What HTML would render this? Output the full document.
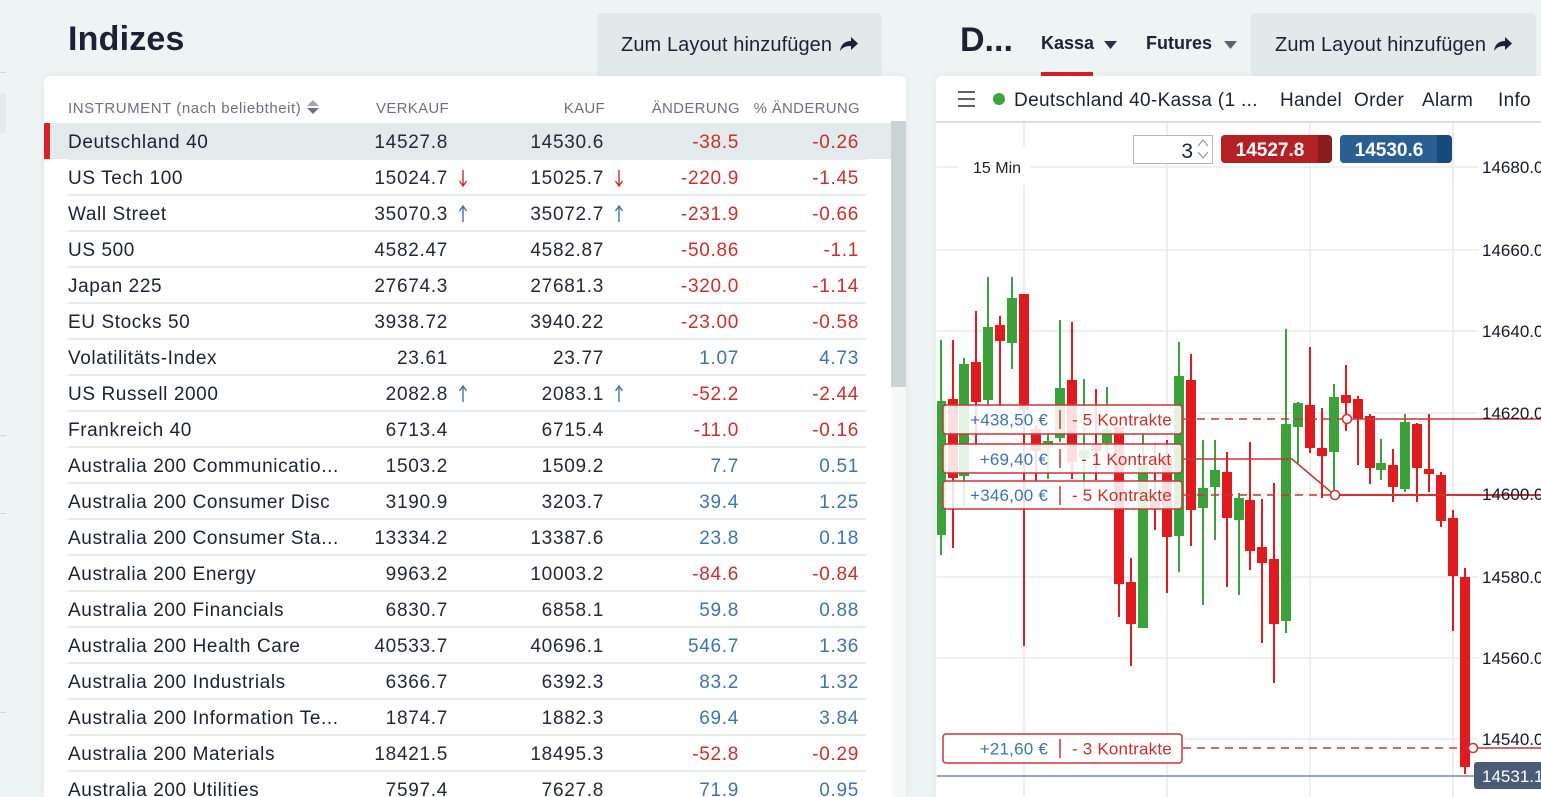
<!DOCTYPE html>
<html><head><meta charset="utf-8"><style>
*{margin:0;padding:0;box-sizing:border-box}
html{width:1541px;height:797px;overflow:hidden}
body{width:1541px;height:797px;overflow:hidden;background:#eef3f3;font-family:"Liberation Sans",sans-serif;position:relative;color:#1b2235}
.a{position:absolute;white-space:nowrap}
.btn{position:absolute;background:#e1e9ea;border-radius:5px 5px 0 0}
.btxt{position:absolute;font-size:20px;line-height:24px;color:#1b2235;letter-spacing:0.1px}
.panel{position:absolute;background:#fff;border-radius:6px 6px 0 0;box-shadow:0 0 10px rgba(0,0,0,0.05);overflow:hidden}
.hd{position:absolute;top:100px;font-size:15px;line-height:18px;color:#6d7081;letter-spacing:0.3px;white-space:nowrap}
.r{position:absolute;left:44px;width:847px;height:36px}
.r span{position:absolute;top:2px;line-height:36px;font-size:19px;white-space:nowrap}
.nm{left:24px;letter-spacing:0.6px;color:#1b2235}
.v{left:294px;width:110px;text-align:right;letter-spacing:0.7px;color:#23283a}
.k{left:450px;width:110px;text-align:right;letter-spacing:0.7px;color:#23283a}
.c{left:585px;width:110px;text-align:right;letter-spacing:0.7px}
.p{left:705px;width:110px;text-align:right;letter-spacing:0.7px}
.red{color:#c9302c!important}
.blu{color:#3d74b0!important}
.sep{position:absolute;left:24px;width:798px;height:2px;background:#e6ecec;top:35px}
.ar{position:absolute;top:10px}
</style></head><body>

<!-- left edge strip -->
<div class="a" style="left:0;top:72px;width:6px;height:1px;background:#d0d7d8"></div>
<div class="a" style="left:0;top:93px;width:6px;height:40px;background:#e3eaeb"></div>
<div class="a" style="left:0;top:435px;width:6px;height:1px;background:#d0d7d8"></div>
<div class="a" style="left:0;top:513px;width:6px;height:1px;background:#d0d7d8"></div>
<div class="a" style="left:0;top:712px;width:6px;height:1px;background:#d0d7d8"></div>

<!-- Title -->
<div class="a" style="left:68px;top:19px;font-size:34px;line-height:40px;font-weight:bold;color:#1b2235;letter-spacing:0.2px">Indizes</div>

<!-- left button -->
<div class="btn" style="left:597px;top:13px;width:285px;height:63px"></div>
<div class="btxt a" style="left:621px;top:33px">Zum Layout hinzufügen</div>
<svg class="a" style="left:840px;top:36px" width="19" height="16" viewBox="0 0 19 16"><path d="M0,15 C1,8 5,5 11,5 V1 L18,7.5 L11,14 V10 C6,10 3,11 0,15 Z" fill="#1b2235"/></svg>

<!-- right header -->
<div class="a" style="left:960px;top:20px;font-size:34px;line-height:40px;font-weight:bold;color:#1b2235">D...</div>
<div class="a" style="left:1041px;top:31px;font-size:18px;line-height:24px;font-weight:bold;color:#1b2235">Kassa</div>
<svg class="a" style="left:1104px;top:41px" width="13" height="9"><path d="M0,0 L13,0 L6.5,8 Z" fill="#2a2f45"/></svg>
<div class="a" style="left:1041px;top:72px;width:52px;height:4px;background:#d42027"></div>
<div class="a" style="left:1146px;top:31px;font-size:18px;line-height:24px;font-weight:bold;color:#1b2235">Futures</div>
<svg class="a" style="left:1224px;top:41px" width="13" height="9"><path d="M0,0 L13,0 L6.5,8 Z" fill="#5e6270"/></svg>
<div class="btn" style="left:1251px;top:13px;width:285px;height:63px"></div>
<div class="btxt a" style="left:1275px;top:33px">Zum Layout hinzufügen</div>
<svg class="a" style="left:1494px;top:36px" width="19" height="16" viewBox="0 0 19 16"><path d="M0,15 C1,8 5,5 11,5 V1 L18,7.5 L11,14 V10 C6,10 3,11 0,15 Z" fill="#1b2235"/></svg>

<!-- Left table panel -->
<div class="panel" style="left:44px;top:76px;width:862px;height:721px">
  <div style="position:absolute;left:847px;top:45px;width:15px;height:676px;background:#f6f8f8"></div>
  <div style="position:absolute;left:847px;top:45px;width:15px;height:266px;background:#c9d3d4"></div>
</div>
<div class="hd" style="left:68px;letter-spacing:0.55px">INSTRUMENT (nach beliebtheit)</div>
<svg class="a" style="left:307px;top:100px" width="12" height="14"><path d="M0,6 L6,0 L12,6 Z" fill="#a3a6b1"/><path d="M0,8 L12,8 L6,14 Z" fill="#6d7081"/></svg>
<div class="hd" style="left:339px;width:110px;text-align:right">VERKAUF</div>
<div class="hd" style="left:495px;width:110px;text-align:right">KAUF</div>
<div class="hd" style="left:620px;width:120px;text-align:right">ÄNDERUNG</div>
<div class="hd" style="left:740px;width:120px;text-align:right">% ÄNDERUNG</div>

<!-- rows -->
<div class="r" style="top:123px;background:#e2eaeb"><div style="position:absolute;left:0;top:0;width:6px;height:36px;background:#d42027"></div><span class="nm">Deutschland 40</span><span class="v">14527.8</span><span class="k">14530.6</span><span class="c red">-38.5</span><span class="p red">-0.26</span></div>
<div class="r" style="top:159px"><span class="nm">US Tech 100</span><span class="v">15024.7</span><svg class="ar" style="left:414px" width="10" height="18"><path d="M5,1 V16 M1.5,12 L5,17 L8.5,12" stroke="#c9302c" stroke-width="1.4" fill="none"/></svg><span class="k">15025.7</span><svg class="ar" style="left:570px" width="10" height="18"><path d="M5,1 V16 M1.5,12 L5,17 L8.5,12" stroke="#c9302c" stroke-width="1.4" fill="none"/></svg><span class="c red">-220.9</span><span class="p red">-1.45</span><div class="sep" style="top:-1px"></div><div class="sep"></div></div>
<div class="r" style="top:195px"><span class="nm">Wall Street</span><span class="v">35070.3</span><svg class="ar" style="left:414px" width="10" height="18"><path d="M5,17 V2 M1.5,6 L5,1 L8.5,6" stroke="#3d74b0" stroke-width="1.4" fill="none"/></svg><span class="k">35072.7</span><svg class="ar" style="left:570px" width="10" height="18"><path d="M5,17 V2 M1.5,6 L5,1 L8.5,6" stroke="#3d74b0" stroke-width="1.4" fill="none"/></svg><span class="c red">-231.9</span><span class="p red">-0.66</span><div class="sep"></div></div>
<div class="r" style="top:231px"><span class="nm">US 500</span><span class="v">4582.47</span><span class="k">4582.87</span><span class="c red">-50.86</span><span class="p red">-1.1</span><div class="sep"></div></div>
<div class="r" style="top:267px"><span class="nm">Japan 225</span><span class="v">27674.3</span><span class="k">27681.3</span><span class="c red">-320.0</span><span class="p red">-1.14</span><div class="sep"></div></div>
<div class="r" style="top:303px"><span class="nm">EU Stocks 50</span><span class="v">3938.72</span><span class="k">3940.22</span><span class="c red">-23.00</span><span class="p red">-0.58</span><div class="sep"></div></div>
<div class="r" style="top:339px"><span class="nm">Volatilitäts-Index</span><span class="v">23.61</span><span class="k">23.77</span><span class="c blu">1.07</span><span class="p blu">4.73</span><div class="sep"></div></div>
<div class="r" style="top:375px"><span class="nm">US Russell 2000</span><span class="v">2082.8</span><svg class="ar" style="left:414px" width="10" height="18"><path d="M5,17 V2 M1.5,6 L5,1 L8.5,6" stroke="#3d74b0" stroke-width="1.4" fill="none"/></svg><span class="k">2083.1</span><svg class="ar" style="left:570px" width="10" height="18"><path d="M5,17 V2 M1.5,6 L5,1 L8.5,6" stroke="#3d74b0" stroke-width="1.4" fill="none"/></svg><span class="c red">-52.2</span><span class="p red">-2.44</span><div class="sep"></div></div>
<div class="r" style="top:411px"><span class="nm">Frankreich 40</span><span class="v">6713.4</span><span class="k">6715.4</span><span class="c red">-11.0</span><span class="p red">-0.16</span><div class="sep"></div></div>
<div class="r" style="top:447px"><span class="nm">Australia 200 Communicatio...</span><span class="v">1503.2</span><span class="k">1509.2</span><span class="c blu">7.7</span><span class="p blu">0.51</span><div class="sep"></div></div>
<div class="r" style="top:483px"><span class="nm">Australia 200 Consumer Disc</span><span class="v">3190.9</span><span class="k">3203.7</span><span class="c blu">39.4</span><span class="p blu">1.25</span><div class="sep"></div></div>
<div class="r" style="top:519px"><span class="nm">Australia 200 Consumer Sta...</span><span class="v">13334.2</span><span class="k">13387.6</span><span class="c blu">23.8</span><span class="p blu">0.18</span><div class="sep"></div></div>
<div class="r" style="top:555px"><span class="nm">Australia 200 Energy</span><span class="v">9963.2</span><span class="k">10003.2</span><span class="c red">-84.6</span><span class="p red">-0.84</span><div class="sep"></div></div>
<div class="r" style="top:591px"><span class="nm">Australia 200 Financials</span><span class="v">6830.7</span><span class="k">6858.1</span><span class="c blu">59.8</span><span class="p blu">0.88</span><div class="sep"></div></div>
<div class="r" style="top:627px"><span class="nm">Australia 200 Health Care</span><span class="v">40533.7</span><span class="k">40696.1</span><span class="c blu">546.7</span><span class="p blu">1.36</span><div class="sep"></div></div>
<div class="r" style="top:663px"><span class="nm">Australia 200 Industrials</span><span class="v">6366.7</span><span class="k">6392.3</span><span class="c blu">83.2</span><span class="p blu">1.32</span><div class="sep"></div></div>
<div class="r" style="top:699px"><span class="nm">Australia 200 Information Te...</span><span class="v">1874.7</span><span class="k">1882.3</span><span class="c blu">69.4</span><span class="p blu">3.84</span><div class="sep"></div></div>
<div class="r" style="top:735px"><span class="nm">Australia 200 Materials</span><span class="v">18421.5</span><span class="k">18495.3</span><span class="c red">-52.8</span><span class="p red">-0.29</span><div class="sep"></div></div>
<div class="r" style="top:761px;height:36px;overflow:hidden"><span class="nm" style="top:12px">Australia 200 Utilities</span><span class="v" style="top:12px">7597.4</span><span class="k" style="top:12px">7627.8</span><span class="c blu" style="top:12px">71.9</span><span class="p blu" style="top:12px">0.95</span></div>

<!-- Chart panel -->
<div class="panel" style="left:936px;top:76px;width:605px;height:721px;border-radius:6px 0 0 0"></div>
<div class="a" style="left:936px;top:121px;width:605px;height:2px;background:#d8dfe0"></div>
<div class="a" style="left:958px;top:91px;width:17px;height:2px;background:#5c6073"></div>
<div class="a" style="left:958px;top:98px;width:17px;height:2px;background:#5c6073"></div>
<div class="a" style="left:958px;top:105px;width:17px;height:2px;background:#5c6073"></div>
<div class="a" style="left:993px;top:93px;width:12px;height:12px;border-radius:50%;background:#3da33d"></div>
<div class="a" style="left:1014px;top:89px;font-size:19px;line-height:24px;color:#1b2235;letter-spacing:0.35px">Deutschland 40-Kassa (1 ...</div>
<div class="a" style="left:1280px;top:89px;font-size:19px;line-height:24px;color:#1b2235;letter-spacing:0.3px">Handel</div>
<div class="a" style="left:1354px;top:89px;font-size:19px;line-height:24px;color:#1b2235;letter-spacing:0.3px">Order</div>
<div class="a" style="left:1422px;top:89px;font-size:19px;line-height:24px;color:#1b2235;letter-spacing:0.3px">Alarm</div>
<div class="a" style="left:1498px;top:89px;font-size:19px;line-height:24px;color:#1b2235;letter-spacing:0.3px">Info</div>

<svg class="a" style="left:0;top:0" width="1541" height="797" viewBox="0 0 1541 797">
<defs><clipPath id="cp"><rect x="937" y="123" width="604" height="674"/></clipPath></defs>
<g clip-path="url(#cp)">
<g stroke="#ececec" stroke-width="1.5">
<line x1="937" y1="167" x2="1478" y2="167"/><line x1="937" y1="250" x2="1478" y2="250"/><line x1="937" y1="331" x2="1478" y2="331"/><line x1="937" y1="413" x2="1478" y2="413"/><line x1="937" y1="494" x2="1478" y2="494"/><line x1="937" y1="577" x2="1478" y2="577"/><line x1="937" y1="658" x2="1478" y2="658"/><line x1="937" y1="739" x2="1478" y2="739"/>
</g>
<g stroke="#eeeeee" stroke-width="2">
<line x1="1024" y1="123" x2="1024" y2="797"/><line x1="1167" y1="123" x2="1167" y2="797"/><line x1="1310" y1="123" x2="1310" y2="797"/><line x1="1453" y1="123" x2="1453" y2="797"/>
</g>
<rect x="958" y="147" width="72" height="38" fill="#fff"/>
<text x="973" y="173" font-size="16" fill="#222" font-family="Liberation Sans, sans-serif">15 Min</text>

<g id="candles">
<g fill="#3ba23b"><rect x="940" y="340" width="2" height="215"/><rect x="936" y="401" width="10" height="134"/></g>
<g fill="#e01b1f"><rect x="952" y="340" width="2" height="208"/><rect x="948" y="399" width="10" height="79"/></g>
<g fill="#3ba23b"><rect x="963" y="358" width="2" height="149"/><rect x="959" y="364" width="10" height="112"/></g>
<g fill="#e01b1f"><rect x="975" y="311" width="2" height="134"/><rect x="971" y="362" width="10" height="40"/></g>
<g fill="#3ba23b"><rect x="987" y="277" width="2" height="129"/><rect x="983" y="327" width="10" height="73"/></g>
<g fill="#e01b1f"><rect x="999" y="316" width="2" height="90"/><rect x="995" y="325" width="10" height="16"/></g>
<g fill="#3ba23b"><rect x="1011" y="277" width="2" height="92"/><rect x="1007" y="298" width="10" height="45"/></g>
<g fill="#e01b1f"><rect x="1023" y="294" width="2" height="352"/><rect x="1019" y="294" width="10" height="116"/></g>
<g fill="#e01b1f"><rect x="1035" y="425" width="2" height="58"/><rect x="1031" y="429" width="10" height="22"/></g>
<g fill="#3ba23b"><rect x="1047" y="430" width="2" height="49"/><rect x="1043" y="441" width="10" height="7"/></g>
<g fill="#3ba23b"><rect x="1059" y="320" width="2" height="122"/><rect x="1055" y="388" width="10" height="50"/></g>
<g fill="#e01b1f"><rect x="1071" y="322" width="2" height="157"/><rect x="1067" y="380" width="10" height="82"/></g>
<g fill="#3ba23b"><rect x="1083" y="379" width="2" height="114"/><rect x="1079" y="450" width="10" height="8"/></g>
<g fill="#e01b1f"><rect x="1095" y="389" width="2" height="91"/><rect x="1091" y="445" width="10" height="6"/></g>
<g fill="#3ba23b"><rect x="1106" y="387" width="2" height="66"/><rect x="1102" y="429" width="10" height="14"/></g>
<g fill="#e01b1f"><rect x="1118" y="427" width="2" height="190"/><rect x="1114" y="427" width="10" height="157"/></g>
<g fill="#e01b1f"><rect x="1130" y="558" width="2" height="108"/><rect x="1126" y="582" width="10" height="42"/></g>
<g fill="#3ba23b"><rect x="1142" y="433" width="2" height="195"/><rect x="1138" y="463" width="10" height="165"/></g>
<g fill="#e01b1f"><rect x="1154" y="443" width="2" height="87"/><rect x="1150" y="500" width="10" height="8"/></g>
<g fill="#e01b1f"><rect x="1166" y="440" width="2" height="153"/><rect x="1162" y="458" width="10" height="79"/></g>
<g fill="#3ba23b"><rect x="1178" y="342" width="2" height="230"/><rect x="1174" y="376" width="10" height="160"/></g>
<g fill="#e01b1f"><rect x="1190" y="354" width="2" height="192"/><rect x="1186" y="380" width="10" height="130"/></g>
<g fill="#3ba23b"><rect x="1202" y="440" width="2" height="165"/><rect x="1198" y="488" width="10" height="20"/></g>
<g fill="#3ba23b"><rect x="1214" y="440" width="2" height="100"/><rect x="1210" y="470" width="10" height="17"/></g>
<g fill="#e01b1f"><rect x="1226" y="452" width="2" height="135"/><rect x="1222" y="472" width="10" height="46"/></g>
<g fill="#3ba23b"><rect x="1238" y="493" width="2" height="102"/><rect x="1234" y="498" width="10" height="22"/></g>
<g fill="#e01b1f"><rect x="1249" y="442" width="2" height="128"/><rect x="1245" y="500" width="10" height="51"/></g>
<g fill="#e01b1f"><rect x="1261" y="499" width="2" height="144"/><rect x="1257" y="547" width="10" height="16"/></g>
<g fill="#e01b1f"><rect x="1273" y="483" width="2" height="200"/><rect x="1269" y="559" width="10" height="65"/></g>
<g fill="#3ba23b"><rect x="1285" y="329" width="2" height="304"/><rect x="1281" y="424" width="10" height="197"/></g>
<g fill="#3ba23b"><rect x="1297" y="402" width="2" height="61"/><rect x="1293" y="403" width="10" height="24"/></g>
<g fill="#e01b1f"><rect x="1309" y="347" width="2" height="106"/><rect x="1305" y="405" width="10" height="43"/></g>
<g fill="#e01b1f"><rect x="1321" y="408" width="2" height="90"/><rect x="1317" y="448" width="10" height="8"/></g>
<g fill="#3ba23b"><rect x="1333" y="384" width="2" height="108"/><rect x="1329" y="397" width="10" height="55"/></g>
<g fill="#e01b1f"><rect x="1345" y="365" width="2" height="66"/><rect x="1341" y="395" width="10" height="8"/></g>
<g fill="#e01b1f"><rect x="1357" y="396" width="2" height="69"/><rect x="1353" y="399" width="10" height="20"/></g>
<g fill="#e01b1f"><rect x="1369" y="414" width="2" height="70"/><rect x="1365" y="416" width="10" height="52"/></g>
<g fill="#3ba23b"><rect x="1380" y="439" width="2" height="41"/><rect x="1376" y="463" width="10" height="7"/></g>
<g fill="#e01b1f"><rect x="1392" y="449" width="2" height="53"/><rect x="1388" y="465" width="10" height="22"/></g>
<g fill="#3ba23b"><rect x="1404" y="414" width="2" height="78"/><rect x="1400" y="422" width="10" height="67"/></g>
<g fill="#e01b1f"><rect x="1416" y="423" width="2" height="79"/><rect x="1412" y="424" width="10" height="44"/></g>
<g fill="#e01b1f"><rect x="1428" y="414" width="2" height="78"/><rect x="1424" y="469" width="10" height="5"/></g>
<g fill="#e01b1f"><rect x="1440" y="472" width="2" height="55"/><rect x="1436" y="475" width="10" height="46"/></g>
<g fill="#e01b1f"><rect x="1452" y="510" width="2" height="121"/><rect x="1448" y="518" width="10" height="58"/></g>
<g fill="#e01b1f"><rect x="1464" y="568" width="2" height="206"/><rect x="1460" y="577" width="10" height="190"/></g>
</g>

<line x1="937" y1="776" x2="1474" y2="776" stroke="#9aa6b2" stroke-width="2"/>

<g stroke="#c8363a" stroke-width="1.6" fill="none">
<line x1="1183" y1="419" x2="1343" y2="419" stroke-dasharray="8,6"/>
<line x1="1351" y1="419" x2="1541" y2="419"/>
<polyline points="1183,459 1292,459 1331,492"/>
<line x1="1339" y1="495" x2="1541" y2="495" stroke-width="2"/>
<line x1="1183" y1="495" x2="1331" y2="495" stroke-dasharray="8,6"/>
<line x1="1183" y1="748" x2="1469" y2="748" stroke-dasharray="8,6"/>
<line x1="1477" y1="748" x2="1541" y2="748"/>
</g>
<g fill="#fff" stroke="#c8363a" stroke-width="1.6">
<circle cx="1347" cy="419" r="4.5"/><circle cx="1335" cy="495" r="4.5"/><circle cx="1473" cy="748" r="4.5"/>
</g>

<g font-family="Liberation Sans, sans-serif" font-size="17">
<rect x="943" y="405" width="239" height="29" rx="3" fill="rgba(255,255,255,0.86)" stroke="#c8363a" stroke-width="1.5"/>
<text x="1048" y="425.5" text-anchor="end" fill="#3d74b0" letter-spacing="0.2">+438,50 €</text>
<line x1="1060" y1="410" x2="1060" y2="429" stroke="#c8363a" stroke-width="1.5"/>
<text x="1072" y="425.5" fill="#c9302c" letter-spacing="0.2">- 5 Kontrakte</text>

<rect x="943" y="444" width="239" height="29" rx="3" fill="rgba(255,255,255,0.86)" stroke="#c8363a" stroke-width="1.5"/>
<text x="1048" y="465" text-anchor="end" fill="#3d74b0" letter-spacing="0.2">+69,40 €</text>
<line x1="1060" y1="449" x2="1060" y2="468" stroke="#c8363a" stroke-width="1.5"/>
<text x="1081" y="465" fill="#c9302c" letter-spacing="0.2">- 1 Kontrakt</text>

<rect x="943" y="481" width="239" height="28" rx="3" fill="rgba(255,255,255,0.86)" stroke="#c8363a" stroke-width="1.5"/>
<text x="1048" y="501" text-anchor="end" fill="#3d74b0" letter-spacing="0.2">+346,00 €</text>
<line x1="1060" y1="486" x2="1060" y2="505" stroke="#c8363a" stroke-width="1.5"/>
<text x="1072" y="501" fill="#c9302c" letter-spacing="0.2">- 5 Kontrakte</text>

<rect x="943" y="734" width="239" height="29" rx="3" fill="rgba(255,255,255,0.86)" stroke="#c8363a" stroke-width="1.5"/>
<text x="1048" y="754.5" text-anchor="end" fill="#3d74b0" letter-spacing="0.2">+21,60 €</text>
<line x1="1060" y1="739" x2="1060" y2="758" stroke="#c8363a" stroke-width="1.5"/>
<text x="1072" y="754.5" fill="#c9302c" letter-spacing="0.2">- 3 Kontrakte</text>
</g>

<g font-family="Liberation Sans, sans-serif" font-size="17" fill="#15182a">
<text x="1482" y="173">14680.0</text>
<text x="1482" y="256">14660.0</text>
<text x="1482" y="337">14640.0</text>
<text x="1482" y="419">14620.0</text>
<text x="1482" y="500">14600.0</text>
<text x="1482" y="583">14580.0</text>
<text x="1482" y="664">14560.0</text>
<text x="1482" y="745">14540.0</text>
</g>
<rect x="1474" y="762" width="70" height="27" rx="3" fill="#4a5b78"/>
<text x="1482" y="782" font-family="Liberation Sans, sans-serif" font-size="17" fill="#fff">14531.1</text>
</g>

<rect x="1133.5" y="135.5" width="79" height="28" fill="#fff" stroke="#b5b8bd" stroke-width="1"/>
<text x="1193" y="158" text-anchor="end" font-family="Liberation Sans, sans-serif" font-size="21" fill="#1b2235">3</text>
<path d="M1198,146 L1203,140 L1208,146" stroke="#8a8d99" stroke-width="1" fill="none"/>
<path d="M1198,152 L1203,158 L1208,152" stroke="#8a8d99" stroke-width="1" fill="none"/>
<rect x="1221" y="135" width="111" height="28" rx="4" fill="#8a1c20"/>
<rect x="1221" y="135" width="97" height="28" rx="4" fill="#b52025"/>
<rect x="1312" y="135" width="6" height="28" fill="#b52025"/>
<text x="1270" y="156" text-anchor="middle" font-family="Liberation Sans, sans-serif" font-size="19" font-weight="bold" fill="#fff">14527.8</text>
<rect x="1340" y="135" width="112" height="28" rx="4" fill="#174a7a"/>
<rect x="1340" y="135" width="97" height="28" rx="4" fill="#2a5f94"/>
<rect x="1431" y="135" width="6" height="28" fill="#2a5f94"/>
<text x="1389" y="156" text-anchor="middle" font-family="Liberation Sans, sans-serif" font-size="19" font-weight="bold" fill="#fff">14530.6</text>
</svg>

</body></html>
